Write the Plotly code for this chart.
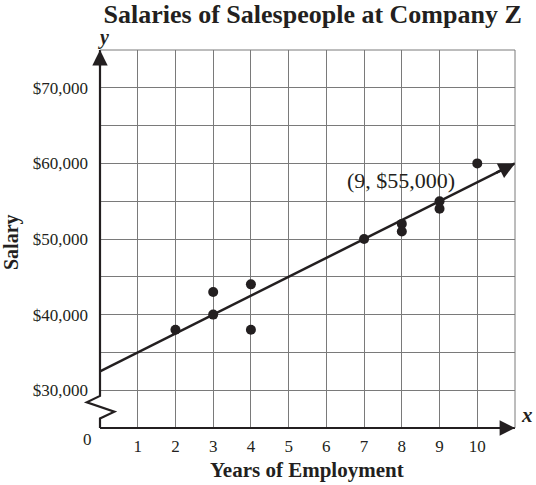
import plotly.graph_objects as go

# Data
years = [2, 3, 3, 4, 4, 7, 8, 8, 9, 9, 10]
salaries = [38000, 43000, 40000, 44000, 38000, 50000, 52000, 51000, 55000, 54000, 60000]
fit_x = [0, 11]
fit_y = [32500, 60000]
y_tick_vals = [25000, 30000, 35000, 40000, 45000, 50000, 55000, 60000, 65000, 70000, 75000]
y_tick_text = ["", "$30,000", "", "$40,000", "", "$50,000", "", "$60,000", "", "$70,000", ""]
x_tick_vals = list(range(0, 12))
x_tick_text = [""] + [str(i) for i in range(1, 11)] + [""]

X_RANGE = [0, 11]
Y_RANGE = [25000, 75000]

SERIF = "Liberation Serif, Times New Roman, serif"
INK = "#231f20"
GRID = "#7a7a7a"

def px(xd):
    return (xd - X_RANGE[0]) / (X_RANGE[1] - X_RANGE[0])

def py(yd):
    return (yd - Y_RANGE[0]) / (Y_RANGE[1] - Y_RANGE[0])

fig = go.Figure()

fig.add_trace(go.Scatter(
    x=fit_x, y=fit_y, mode="lines",
    line=dict(color=INK, width=2.5), hoverinfo="skip", showlegend=False,
))
fig.add_trace(go.Scatter(
    x=years, y=salaries, mode="markers",
    marker=dict(color=INK, size=10), showlegend=False,
))

# y-axis with break (zigzag)
zig = [(0, 75000), (0, 29250), (-0.35, 28400), (0.38, 27150), (0, 26250), (0, 25000)]
path = "M " + " L ".join(f"{px(a)},{py(b)}" for a, b in zig)
shapes = [
    dict(type="path", xref="paper", yref="paper", path=path,
         line=dict(color=INK, width=2.2)),
    dict(type="line", xref="paper", yref="paper", x0=px(0), y0=py(25000), x1=px(11), y1=py(25000),
         line=dict(color=INK, width=2.2)),
    dict(type="line", xref="paper", yref="paper", x0=px(11), y0=0, x1=px(11), y1=1,
         line=dict(color=GRID, width=1)),
    dict(type="line", xref="paper", yref="paper", x0=0, y0=py(75000), x1=1, y1=py(75000),
         line=dict(color=GRID, width=1)),
]

annotations = [
    # arrowheads
    dict(x=0, y=75000, xref="x", yref="y", ax=0, ay=18,
         showarrow=True, arrowhead=2, arrowsize=1.4, arrowwidth=2.2, arrowcolor=INK, text=""),
    dict(x=11, y=25000, xref="x", yref="y", ax=-18, ay=0,
         showarrow=True, arrowhead=2, arrowsize=1.4, arrowwidth=2.2, arrowcolor=INK, text=""),
    dict(x=fit_x[1], y=fit_y[1], xref="x", yref="y", ax=-20, ay=10,
         showarrow=True, arrowhead=2, arrowsize=1.3, arrowwidth=2.5, arrowcolor=INK, text=""),
    # axis letters
    dict(x=0, y=1, xref="paper", yref="paper", xshift=-4, yshift=-1, yanchor="bottom", showarrow=False,
         text="<b><i>y</i></b>", font=dict(family=SERIF, size=20, color=INK)),
    dict(x=1, y=0, xref="paper", yref="paper", xanchor="left", xshift=4, yshift=-1, showarrow=False,
         text="<b><i>x</i></b>", font=dict(family=SERIF, size=21, color=INK)),
    dict(x=0, y=0, xref="paper", yref="paper", xanchor="right", yanchor="top", xshift=-6, yshift=0,
         showarrow=False, text="0", font=dict(family=SERIF, size=17, color=INK)),
    # point label
    dict(x=9, y=55000, xref="x", yref="y", xanchor="center", yanchor="bottom", xshift=-39, yshift=6,
         showarrow=False, text="(9, $55,000)", font=dict(family=SERIF, size=22, color=INK)),
    # axis titles
    dict(x=(11 - 100) / 415, y=(428 - 242) / 378, xref="paper", yref="paper", xanchor="center",
         yanchor="middle", textangle=-90, showarrow=False, text="<b>Salary</b>",
         font=dict(family=SERIF, size=20, color=INK)),
    dict(x=(307 - 100) / 415, y=(428 - 470) / 378, xref="paper", yref="paper", xanchor="center",
         yanchor="middle", showarrow=False, text="<b>Years of Employment</b>",
         font=dict(family=SERIF, size=21, color=INK)),
]

fig.update_layout(
    width=536, height=485,
    margin=dict(l=100, r=21, t=50, b=57),
    paper_bgcolor="white", plot_bgcolor="white",
    title=dict(text="<b>Salaries of Salespeople at Company Z</b>", x=312.7 / 536, xanchor="center",
               y=1 - 14 / 485, yanchor="middle", font=dict(family=SERIF, size=26, color=INK)),
    shapes=shapes, annotations=annotations,
    xaxis=dict(range=X_RANGE, tickvals=x_tick_vals, ticktext=x_tick_text, showgrid=True,
               gridcolor=GRID, gridwidth=1, zeroline=False, showline=False, ticks="",
               ticklabelstandoff=6,
               tickfont=dict(family=SERIF, size=17, color=INK)),
    yaxis=dict(range=Y_RANGE, tickvals=y_tick_vals, ticktext=y_tick_text, showgrid=True,
               gridcolor=GRID, gridwidth=1, zeroline=False, showline=False, ticks="",
               ticklabelstandoff=11,
               tickfont=dict(family=SERIF, size=17, color=INK)),
)

fig.write_html("out.html", config={"displayModeBar": False},
               post_script="document.body.style.margin='0';")
